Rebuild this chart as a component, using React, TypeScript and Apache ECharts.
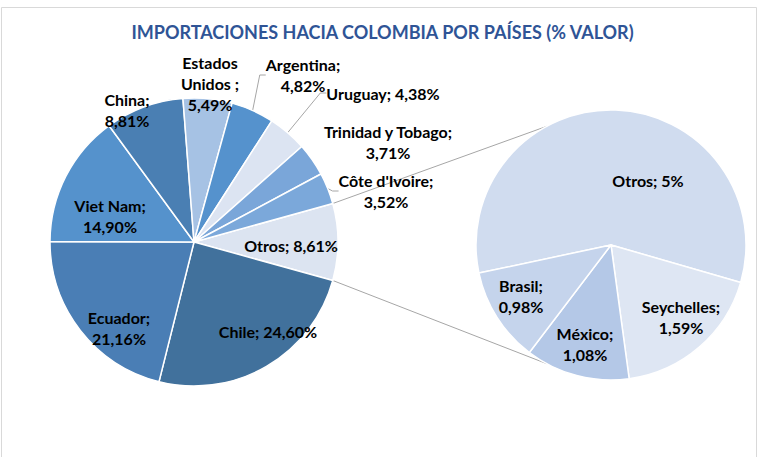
import React, { useEffect, useRef } from 'react';
import * as echarts from 'echarts';

const chartTitle = 'IMPORTACIONES HACIA COLOMBIA POR PAÍSES (% VALOR)';

const mainCategories = ['Otros', 'Chile', 'Ecuador', 'Viet Nam', 'China', 'Estados Unidos ', 'Argentina', 'Uruguay', 'Trinidad y Tobago', "Côte d'Ivoire"];
const mainValues = [8.61, 24.6, 21.16, 14.9, 8.81, 5.49, 4.82, 4.38, 3.71, 3.52];
const mainColors = ['#DCE4F1', '#41719C', '#4A7EB5', '#5592CC', '#4A7FB3', '#A6C2E4', '#5592CD', '#DCE4F2', '#7AA6D9', '#7BA8DA'];

const detailCategories = ['Otros', 'Seychelles', 'México', 'Brasil'];
const detailValues = [5, 1.59, 1.08, 0.98];
const detailColors = ['#D0DCEF', '#DEE6F3', '#B4C8E7', '#C5D4EC'];

const FONT = 'Lato';

const fmt = (v: number) => (Number.isInteger(v) ? String(v) : v.toFixed(2).replace('.', ','));

const singleLine = new Set(['Otros', 'Chile', 'Uruguay']);
const labelText = (name: string, v: number) => {
  if (name.startsWith('Estados')) return `Estados\nUnidos ;\n${fmt(v)}%`;
  if (singleLine.has(name)) return `${name}; ${fmt(v)}%`;
  return `${name};\n${fmt(v)}%`;
};

const mainLabelPos: Record<string, [number, number]> = {
  'Otros': [291, 245],
  'Chile': [268, 331],
  'Ecuador': [119, 328],
  'Viet Nam': [110, 216],
  'China': [127, 110],
  'Estados Unidos ': [210, 83],
  'Argentina': [303, 75],
  'Uruguay': [383, 93],
  'Trinidad y Tobago': [388, 142],
  "Côte d'Ivoire": [386, 191],
};
const detailLabelPos: Record<string, [number, number]> = {
  'Otros': [648, 180],
  'Seychelles': [681, 317],
  'México': [585, 344],
  'Brasil': [521, 296],
};
const withLeader = new Set(['Argentina', 'Uruguay', "Côte d'Ivoire"]);

export default function App() {
  const ref = useRef<HTMLDivElement>(null);
  useEffect(() => {
    if (!ref.current) return;
    const chart = echarts.init(ref.current, undefined, { renderer: 'svg' });

    const L = { cx: 194, cy: 242, r: 144 };
    const R = { cx: 611, cy: 245, r: 135 };
    const mainSum = mainValues.reduce((a, b) => a + b, 0);
    const otrosHalf = (360 * mainValues[0]) / mainSum / 2; // degrees
    const mainStart = otrosHalf;
    const detailStart = 192;
    const connAngle = 118.5;
    const rad = Math.PI / 180;

    const lp1 = [L.cx + L.r * Math.cos(otrosHalf * rad), L.cy - L.r * Math.sin(otrosHalf * rad)];
    const lp2 = [L.cx + L.r * Math.cos(otrosHalf * rad), L.cy + L.r * Math.sin(otrosHalf * rad)];
    const rp1 = [R.cx + R.r * Math.cos(connAngle * rad), R.cy - R.r * Math.sin(connAngle * rad)];
    const rp2 = [R.cx + R.r * Math.cos(connAngle * rad), R.cy + R.r * Math.sin(connAngle * rad)];

    const labelBase = {
      color: '#000',
      fontFamily: FONT,
      fontWeight: 'bold' as const,
      fontSize: 16,
      lineHeight: 21,
      align: 'center' as const,
    };

    chart.setOption({
      animation: false,
      backgroundColor: '#fff',
      title: {
        text: chartTitle,
        left: 'center',
        top: 18,
        textStyle: { fontFamily: FONT, fontWeight: 'bold', fontSize: 18, color: '#2F5496' },
      },
      graphic: [
        {
          type: 'rect',
          z: 0,
          shape: { x: 1.5, y: 7.5, width: 755, height: 470 },
          style: { fill: 'none', stroke: '#D9D9D9', lineWidth: 1 },
        },
        {
          type: 'line',
          z: 1,
          shape: { x1: lp1[0], y1: lp1[1], x2: rp1[0], y2: rp1[1] },
          style: { stroke: '#A6A6A6', lineWidth: 1 },
        },
        {
          type: 'line',
          z: 1,
          shape: { x1: lp2[0], y1: lp2[1], x2: rp2[0], y2: rp2[1] },
          style: { stroke: '#A6A6A6', lineWidth: 1 },
        },
      ],
      series: [
        {
          type: 'pie',
          center: [L.cx, L.cy],
          radius: [0, L.r],
          startAngle: mainStart,
          clockwise: true,
          avoidLabelOverlap: false,
          itemStyle: { borderColor: '#fff', borderWidth: 1.5 },
          emphasis: { disabled: true },
          data: mainCategories.map((name, i) => ({
            name,
            value: mainValues[i],
            itemStyle: { color: mainColors[i] },
            label: {
              show: true,
              position: withLeader.has(name) ? 'outside' : 'inside',
              formatter: labelText(name, mainValues[i]),
              ...labelBase,
            },
            labelLine: {
              show: withLeader.has(name),
              length: 8,
              length2: 6,
              lineStyle: { color: '#A6A6A6', width: 1 },
            },
          })),
          labelLayout: (p: any) => {
            const pos = mainLabelPos[mainCategories[p.dataIndex]];
            return { x: pos[0], y: pos[1], align: 'center', verticalAlign: 'middle' };
          },
        },
        {
          type: 'pie',
          center: [R.cx, R.cy],
          radius: [0, R.r],
          startAngle: detailStart,
          clockwise: true,
          avoidLabelOverlap: false,
          itemStyle: { borderColor: '#fff', borderWidth: 1.5 },
          emphasis: { disabled: true },
          data: detailCategories.map((name, i) => ({
            name,
            value: detailValues[i],
            itemStyle: { color: detailColors[i] },
            label: {
              show: true,
              position: 'inside',
              formatter: labelText(name, detailValues[i]),
              ...labelBase,
            },
            labelLine: { show: false },
          })),
          labelLayout: (p: any) => {
            const pos = detailLabelPos[detailCategories[p.dataIndex]];
            return { x: pos[0], y: pos[1], align: 'center', verticalAlign: 'middle' };
          },
        },
      ],
    });
    return () => chart.dispose();
  }, []);
  return <div ref={ref} style={{ position: 'fixed', left: 0, top: 0, width: 765, height: 457 }} />;
}
